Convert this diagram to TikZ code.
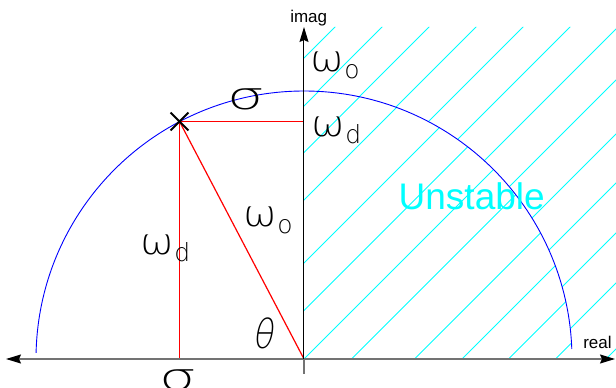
\documentclass[tikz,border=0pt]{standalone}
\usepackage{fontspec}
\usepackage{graphicx}
\setmainfont{Liberation Sans}
\newfontfamily\glyf{DejaVu Sans ExtraLight}
\newfontfamily\glyfsl[FakeSlant=0.2]{DejaVu Sans ExtraLight}
\usetikzlibrary{arrows.meta,shapes.misc}
\definecolor{hatchcyan}{RGB}{0,255,255}
\definecolor{polered}{RGB}{255,0,0}
\definecolor{arcblue}{RGB}{0,0,255}
\newcommand{\omlab}[1]{{\glyf\fontsize{36}{36}\selectfont\scalebox{1.12}[1]{ω}\kern0.5pt\raisebox{-6.5pt}{\fontsize{25}{25}\selectfont #1}}}
\newcommand{\siglab}{{\glyf\fontsize{38}{38}\selectfont\scalebox{1.55}[1]{σ}}}
\tikzset{
  >={Stealth[black, length=15pt, width=9pt, inset=2pt]},
  hatchline/.style={hatchcyan, line width=0.8pt},
  redline/.style={polered, line width=1.2pt},
  axisgray/.style={black!55, line width=1.3pt},
  lab/.style={inner sep=0pt, anchor=base west},
  axlab/.style={inner sep=0pt, anchor=base, font=\fontsize{17}{17}\selectfont}
}
\begin{document}
\begin{tikzpicture}[x=1pt,y=1pt]
\useasboundingbox (-304,-29) rectangle (312,359);
% coordinates
\coordinate (O) at (0,0);
\coordinate (xl) at (-298,0);
\coordinate (xr) at (311,0);
\coordinate (yt) at (0,332);
\coordinate (yb) at (0,-15);
\coordinate (Pc) at (-124.5,237.5);
\coordinate (Py) at (0,237.5);
\coordinate (Px) at (-124.5,0);
% hatching inside the quarter disk
\begin{scope}
  \clip (0,0) -- (268,0) arc[start angle=0, end angle=90, radius=268] -- cycle;
  \foreach \d in {-253,-206.5,-159,-96,-48.5,0,47.5,110.5,158,204.5,251.5}
    \draw[hatchline] ({\d-400},-400) -- ({\d+400},400);
\end{scope}
% hatching outside the disk
\begin{scope}
  \clip (0,268) -- (0,332) -- (312,332) -- (312,0) -- (268,0) arc[start angle=0, end angle=90, radius=268] -- cycle;
  \foreach \d in {-301,-254,-207,-160,-113,-66,-18,33,87,136,186,236,302}
    \draw[hatchline] ({\d-400},-400) -- ({\d+400},400);
\end{scope}
% circle arc
\draw[arcblue, line width=0.9pt] (2.14:268) arc[start angle=2.14, end angle=178.7, radius=268];
% red construction lines
\draw[redline] (Pc) -- (Py);
\draw[redline] (Pc) -- (Px);
\draw[redline] (Pc) -- (O);
% axes
\draw[axisgray, <->] (xl) -- (xr);
\draw[axisgray] (O) -- (yb);
\draw[black, line width=1pt, ->] (O) -- (yt);
\node[axlab] (imag) at (4.7,336.5) {imag};
\node[axlab] (real) at (293.5,10.7) {real};
% pole
\node[cross out, draw=black, line width=1.8pt, minimum size=16pt, inner sep=0pt] (P) at (Pc) {};
% labels
\node[lab] (w0t) at (6,287.3) {\omlab{o}};
\node[lab] (wdt) at (7,222) {\omlab{d}};
\node[lab] (sgt) at (-77,249) {\siglab};
\node[lab] (wdl) at (-164,104) {\omlab{d}};
\node[lab] (w0d) at (-61,132) {\omlab{o}};
\node[lab] (th) at (-52,10.7) {\glyfsl\fontsize{40}{40}\selectfont\scalebox{0.85}[1]{θ}};
\node[lab] (sgb) at (-145,-31.7) {\siglab};
\node[inner sep=0pt, anchor=base, text=hatchcyan, font=\fontsize{37}{37}\selectfont] (uns) at (167.7,149.7) {Unstable};
\end{tikzpicture}
\end{document}
